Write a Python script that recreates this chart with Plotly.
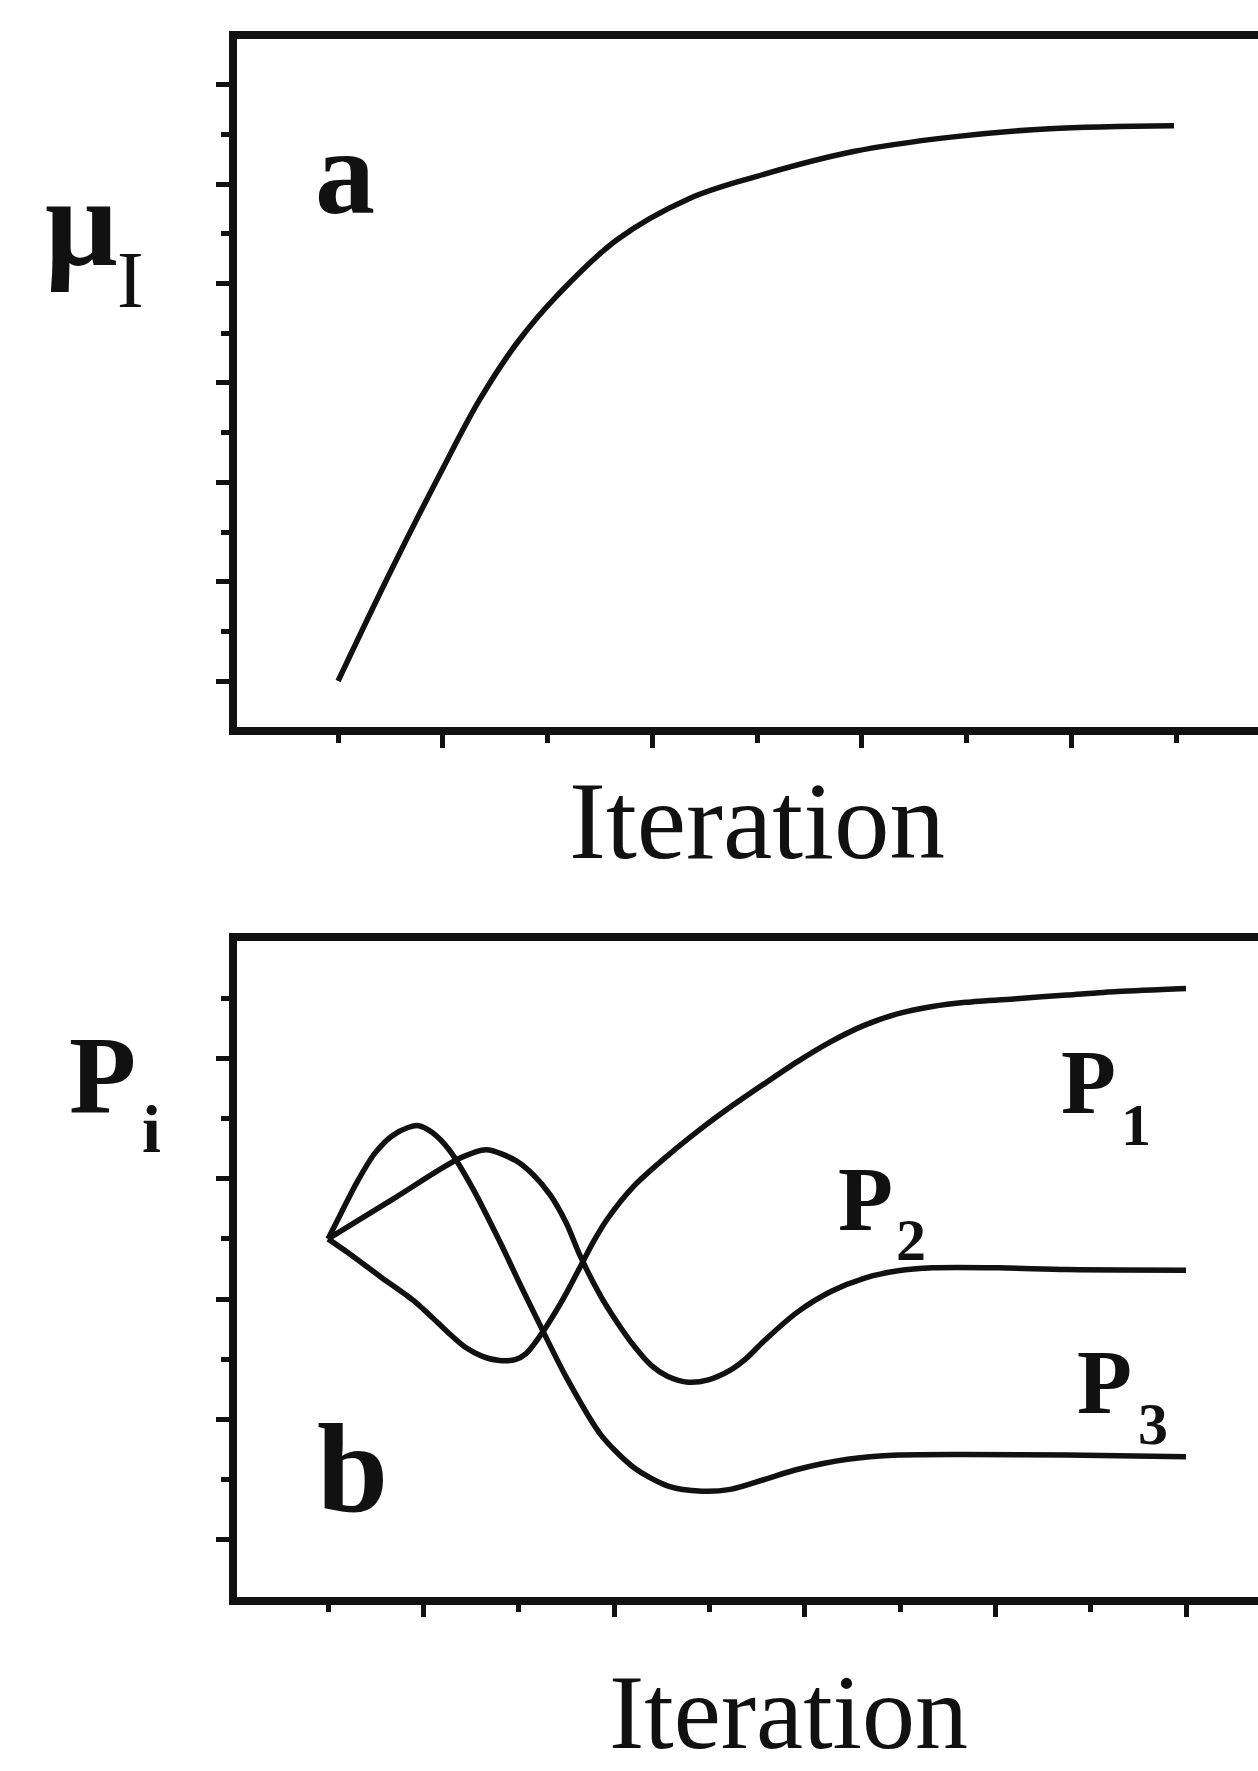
import plotly.graph_objects as go

# ---- data -------------------------------------------------------------
# (a) mean intensity mu_I versus iteration
iter_a = [1.0, 1.5, 2.0, 2.35, 2.72, 3.10, 3.66, 4.35, 4.98, 5.92, 6.85, 7.79, 8.98]
mu_i = [1.0, 3.2, 5.28, 6.66, 7.84, 8.78, 9.88, 10.71, 11.15, 11.66, 11.95, 12.12, 12.18]

# (b) probabilities P1, P2, P3 versus iteration
iter_p1 = [1.0, 1.21, 1.56, 1.91, 2.09, 2.27, 2.44, 2.62, 2.80, 2.97, 3.08, 3.22, 3.36, 3.50,
           3.65, 3.79, 3.93, 4.21, 4.56, 4.92, 5.22, 5.57, 5.92, 6.28, 6.63, 6.98, 7.34,
           7.69, 8.22, 8.75, 9.28, 10.0]
p1 = [6.0, 5.77, 5.36, 4.96, 4.70, 4.43, 4.20, 4.05, 3.98, 4.00, 4.10, 4.38, 4.72, 5.10,
      5.55, 5.97, 6.33, 6.88, 7.38, 7.84, 8.19, 8.57, 8.94, 9.28, 9.55, 9.74, 9.86,
      9.93, 9.99, 10.05, 10.11, 10.16]

iter_p2 = [1.0, 1.68, 2.37, 2.66, 2.97, 3.15, 3.33, 3.50, 3.65, 3.86, 4.03, 4.21, 4.39,
           4.56, 4.78, 4.99, 5.22, 5.39, 5.57, 5.92, 6.28, 6.63, 6.98, 7.34, 8.04, 8.75, 10.0]
p2 = [6.0, 6.66, 7.33, 7.48, 7.30, 7.07, 6.73, 6.26, 5.70, 5.05, 4.62, 4.22, 3.90,
      3.72, 3.62, 3.66, 3.82, 4.02, 4.30, 4.78, 5.13, 5.35, 5.47, 5.52, 5.52, 5.49, 5.48]

iter_p3 = [1.0, 1.14, 1.31, 1.49, 1.67, 1.84, 1.95, 2.09, 2.27, 2.51, 2.80, 3.01, 3.22,
           3.50, 3.86, 4.21, 4.56, 4.92, 5.22, 5.57, 5.92, 6.45, 6.98, 7.69, 8.75, 10.0]
p3 = [6.0, 6.44, 6.96, 7.42, 7.71, 7.85, 7.88, 7.77, 7.48, 6.86, 5.96, 5.26, 4.58,
      3.70, 2.75, 2.20, 1.90, 1.81, 1.84, 2.0, 2.17, 2.34, 2.41, 2.42, 2.41, 2.38]

x_title = "Iteration"

# ---- page geometry ----------------------------------------------------
W, H = 1258, 1771
LEFT = 237
INK = "#111111"
SERIF = "Liberation Serif"


def px(x):
    return (x - LEFT) / (W - LEFT)


def py(y):
    return (H - y) / H


line_style = dict(color=INK, width=5.5, shape="spline", smoothing=1.0)

fig = go.Figure()
fig.add_trace(go.Scatter(x=iter_a, y=mu_i, mode="lines", line=line_style,
                         xaxis="x", yaxis="y", showlegend=False))
for xs, ys in ((iter_p1, p1), (iter_p2, p2), (iter_p3, p3)):
    fig.add_trace(go.Scatter(x=xs, y=ys, mode="lines",
                             line=dict(line_style, smoothing=0.8),
                             xaxis="x2", yaxis="y2", showlegend=False))

axis_common = dict(
    showline=True, linewidth=7.5, linecolor=INK,
    ticks="outside", tickcolor=INK, tickwidth=5, ticklen=13,
    showticklabels=False, showgrid=False, zeroline=False,
    fixedrange=True,
)
minor = dict(ticks="outside", tickcolor=INK, tickwidth=5, ticklen=8,
             dtick=1, tick0=0, showgrid=False)

fig.update_layout(
    width=W, height=H, autosize=False,
    margin=dict(l=LEFT, r=0, t=0, b=0, pad=0),
    paper_bgcolor="white", plot_bgcolor="white",
    xaxis=dict(axis_common, domain=[0, 1], anchor="y", range=[0.035, 9.782],
               mirror=True, tick0=0, dtick=2, minor=minor),
    yaxis=dict(axis_common, domain=[0.58939, 0.97809], anchor="x", range=[0.07, 13.93],
               tick0=1, dtick=2, minor=minor),
    xaxis2=dict(axis_common, domain=[0, 1], anchor="y2", range=[0.045, 10.755],
                mirror=True, tick0=0, dtick=2, minor=minor),
    yaxis2=dict(axis_common, domain=[0.09842, 0.46849], anchor="x2", range=[0.058, 10.942],
                tick0=1, dtick=2, minor=minor),
)


def label(text, x, y, size, bold=False):
    fig.add_annotation(
        text=f"<b>{text}</b>" if bold else text,
        x=px(x), y=py(y), xref="paper", yref="paper",
        xanchor="center", yanchor="middle", showarrow=False,
        font=dict(family=SERIF, size=size, color=INK),
    )


# axis titles
label("\u03bc", 81, 222, 128, bold=True)
label("I", 130, 280, 80)
label("P", 102, 1075, 110, bold=True)
label("i", 151, 1129, 68, bold=True)
label(x_title, 757, 820, 111)
label(x_title, 788, 1712, 106)

# panel letters
label("a", 345, 172, 120, bold=True)
label("b", 352, 1468, 128, bold=True)

# curve labels in panel b
label("P", 1088, 1082, 90, bold=True)
label("1", 1136, 1125, 60, bold=True)
label("P", 865, 1200, 90, bold=True)
label("2", 911, 1240, 60, bold=True)
label("P", 1104, 1382, 90, bold=True)
label("3", 1153, 1424, 60, bold=True)

fig.write_html("out.html")
